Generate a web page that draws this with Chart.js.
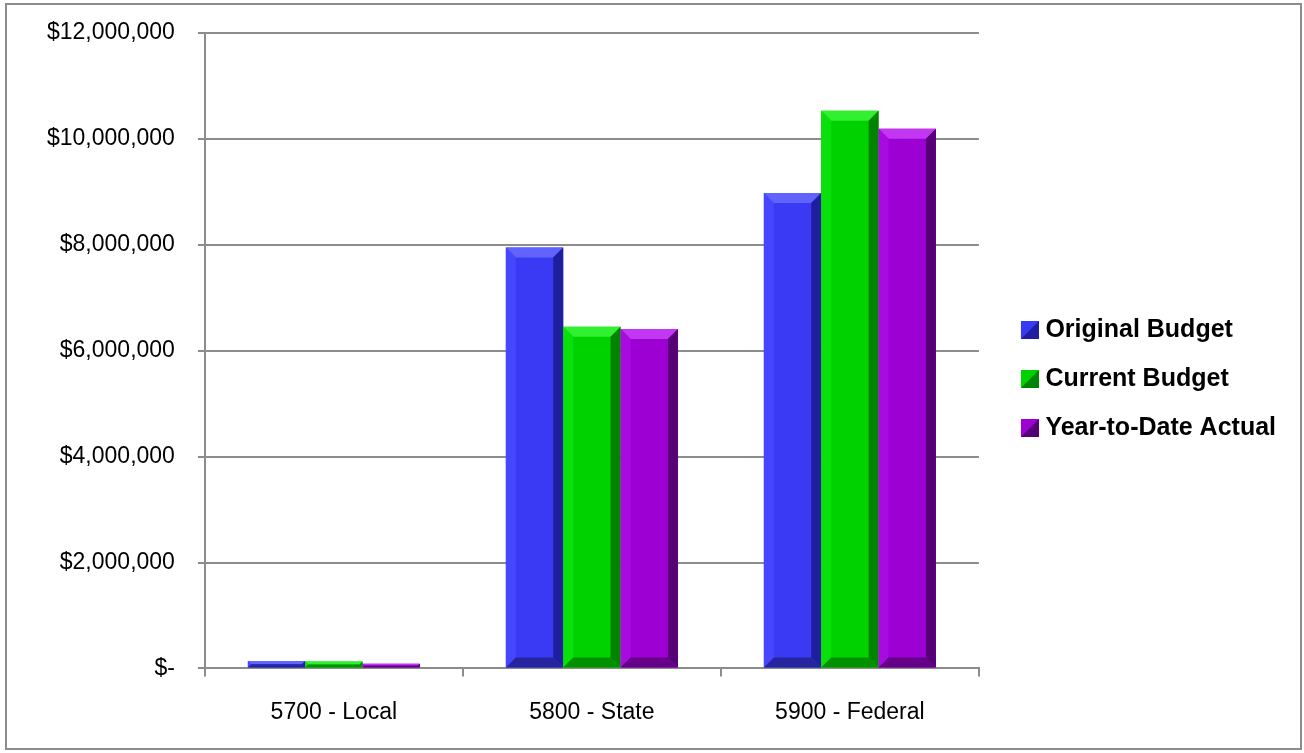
<!DOCTYPE html>
<html lang="en">
<head>
	<meta charset="UTF-8">
	<title>Budget by Source</title>
	<script src="https://cdn.jsdelivr.net/npm/chart.js"></script>
	<style>
		body { margin: 0; background: #fff; }
		#frame { position: absolute; left: 5px; top: 3px; width: 1297px; height: 747px; border: 2px solid #8c8c8c; box-sizing: border-box; }
	</style>
</head>
<body>
	<div id="frame"><canvas id="budgetChart"></canvas></div>
	<script>
	const categories = ['5700 - Local', '5800 - State', '5900 - Federal'];
	const originalBudget = [140000, 7950000, 8980000];
	const currentBudget = [130000, 6450000, 10530000];
	const ytdActual = [90000, 6410000, 10190000];
	const yTickLabels = ['$-', '$2,000,000', '$4,000,000', '$6,000,000', '$8,000,000', '$10,000,000', '$12,000,000'];

	// main / top bevel / left / right / bottom
	const shades = [
		['#3a3af5', '#6262ff', '#4646ff', '#1e1e9e', '#25259e'],
		['#00d200', '#30f030', '#0ae00a', '#008400', '#009000'],
		['#9c00d2', '#c238f2', '#a80ae0', '#560078', '#650088']
	];

	function bevel(ctx, left, top, right, bottom, b, s) {
		const poly = (pts, c) => {
			ctx.fillStyle = c;
			ctx.beginPath();
			ctx.moveTo(pts[0][0], pts[0][1]);
			pts.slice(1).forEach(p => ctx.lineTo(p[0], p[1]));
			ctx.closePath();
			ctx.fill();
		};
		poly([[left, top], [right, top], [right - b, top + b], [left + b, top + b]], s[1]);
		poly([[left, top], [left + b, top + b], [left + b, bottom - b], [left, bottom]], s[2]);
		poly([[right, top], [right, bottom], [right - b, bottom - b], [right - b, top + b]], s[3]);
		poly([[left, bottom], [right, bottom], [right - b, bottom - b], [left + b, bottom - b]], s[4]);
	}

	// legend markers: a small bevelled square, sitting at the right of a wider image
	function legendMarker(s) {
		const c = document.createElement('canvas');
		c.width = 42;
		c.height = 18;
		const g = c.getContext('2d');
		g.fillStyle = s[0];
		g.fillRect(24, 0, 18, 18);
		g.fillStyle = s[3];
		g.beginPath();
		g.moveTo(42, 0); g.lineTo(42, 18); g.lineTo(24, 18);
		g.closePath();
		g.fill();
		return c;
	}
	const markers = shades.map(legendMarker);

	const bevelPlugin = {
		id: 'bevel',
		afterDatasetsDraw(chart) {
			const ctx = chart.ctx;
			ctx.save();
			chart.data.datasets.forEach((ds, di) => {
				const meta = chart.getDatasetMeta(di);
				meta.data.forEach(bar => {
					const p = bar.getProps(['x', 'y', 'base', 'width'], true);
					const left = p.x - p.width / 2, right = p.x + p.width / 2;
					const top = Math.min(p.y, p.base), bottom = Math.max(p.y, p.base);
					const b = Math.min(10, (bottom - top) / 2, p.width / 4);
					bevel(ctx, left, top, right, bottom, b, shades[di]);
				});
			});
			ctx.restore();
		}
	};

	const gridGray = '#8c8c8c';
	const ctx = document.getElementById('budgetChart').getContext('2d');
	new Chart(ctx, {
		type: 'bar',
		data: {
			labels: categories,
			datasets: [{
				label: 'Original Budget',
				data: originalBudget,
				backgroundColor: shades[0][0]
			}, {
				label: 'Current Budget',
				data: currentBudget,
				backgroundColor: shades[1][0]
			}, {
				label: 'Year-to-Date Actual',
				data: ytdActual,
				backgroundColor: shades[2][0]
			}]
		},
		options: {
			responsive: true,
			maintainAspectRatio: false,
			animation: false,
			datasets: {
				bar: { barPercentage: 1, categoryPercentage: 0.667 }
			},
			layout: {
				padding: { left: 17, top: 5, bottom: 0, right: 14 }
			},
			plugins: {
				tooltip: { enabled: false },
				legend: {
					position: 'right',
					align: 'center',
					labels: {
						usePointStyle: true,
						pointStyleWidth: 30,
						boxHeight: 18,
						padding: 24,
						color: '#000',
						font: { family: 'Liberation Sans', size: 25, weight: 'bold' },
						generateLabels(chart) {
							const items = Chart.defaults.plugins.legend.labels.generateLabels(chart);
							items.forEach((it, i) => { it.pointStyle = markers[i]; });
							return items;
						}
					}
				}
			},
			scales: {
				x: {
					grid: { drawOnChartArea: false, offset: true, tickLength: 8, color: gridGray, lineWidth: 2 },
					border: { display: true, color: gridGray, width: 2 },
					ticks: { padding: 22, color: '#000', font: { family: 'Liberation Sans', size: 23 } }
				},
				y: {
					min: 0,
					max: 12000000,
					// pull the top of the plot up; the tick padding is for the horizontal gap only
					afterFit: scale => { scale.paddingTop = 28; },
					grid: { color: gridGray, lineWidth: 2, tickLength: 7 },
					border: { display: true, color: gridGray, width: 2 },
					ticks: {
						stepSize: 2000000,
						padding: 23,
						color: '#000',
						font: { family: 'Liberation Sans', size: 23 },
						callback: (v, i) => yTickLabels[i]
					}
				}
			}
		},
		plugins: [bevelPlugin]
	});
	</script>
</body>
</html>
